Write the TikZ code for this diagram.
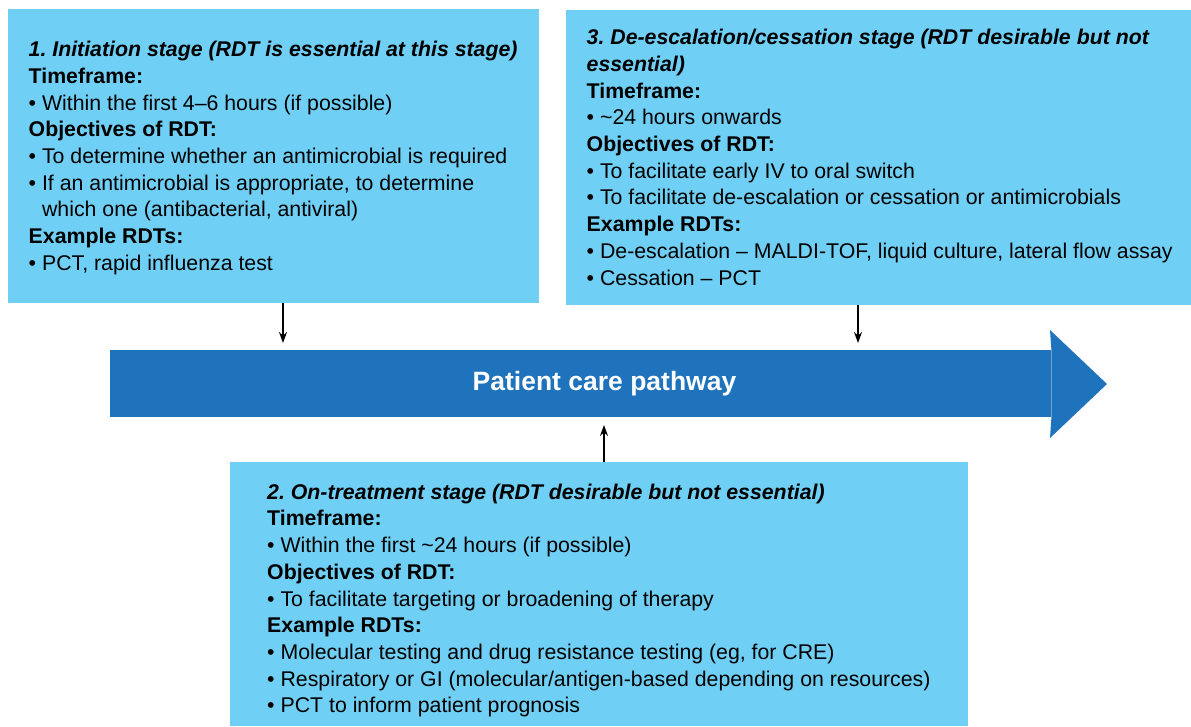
\documentclass[tikz,border=0pt]{standalone}
\usepackage{fontspec}
\setmainfont{Liberation Sans}
\usetikzlibrary{arrows.meta}
\definecolor{boxblue}{RGB}{112,207,245}
\definecolor{pathblue}{RGB}{31,115,188}
\frenchspacing

\begin{document}
\begin{tikzpicture}[x=1pt,y=-1pt,
  stagebox/.style={fill=boxblue, draw=none, anchor=north west, inner sep=0pt},
  stagetext/.style={anchor=north west, inner sep=0pt, align=left,
    font=\fontsize{21.3}{26.7}\selectfont},
  conn/.style={-{Stealth[length=11pt,width=8pt]}, line width=1.4pt, black}]
\useasboundingbox (0,0) rectangle (1191,726);

% stage boxes
\node[stagebox, minimum width=531pt, minimum height=294pt] (s1) at (8,9) {};
\node[stagebox, minimum width=625pt, minimum height=295pt] (s3) at (566,10) {};
\node[stagebox, minimum width=738pt, minimum height=264pt] (s2) at (230,462) {};

% stage texts (first baseline 20pt below the node top)
\node[stagetext] (s1text) at (28.5,36.4) {\rule{0pt}{20pt}\textbf{\textit{1. Initiation stage (RDT is essential at this stage)}}\\
\textbf{Timeframe:}\\
• Within the first 4–6 hours (if possible)\\
\textbf{Objectives of RDT:}\\
• To determine whether an antimicrobial is required\\
• If an antimicrobial is appropriate, to determine\\
\phantom{• }which one (antibacterial, antiviral)\\
\textbf{Example RDTs:}\\
• PCT, rapid influenza test};

\node[stagetext] (s3text) at (586.5,24.5) {\rule{0pt}{20pt}\textbf{\textit{3. De-escalation/cessation stage (RDT desirable but not}}\\
\textbf{\textit{essential)}}\\
\textbf{Timeframe:}\\
• \textasciitilde{}24 hours onwards\\
\textbf{Objectives of RDT:}\\
• To facilitate early IV to oral switch\\
• To facilitate de-escalation or cessation or antimicrobials\\
\textbf{Example RDTs:}\\
• De-escalation – MALDI-TOF, liquid culture, lateral flow assay\\
• Cessation – PCT};

\node[stagetext] (s2text) at (267,479) {\rule{0pt}{20pt}\textbf{\textit{2. On-treatment stage (RDT desirable but not essential)}}\\
\textbf{Timeframe:}\\
• Within the first \textasciitilde{}24 hours (if possible)\\
\textbf{Objectives of RDT:}\\
• To facilitate targeting or broadening of therapy\\
\textbf{Example RDTs:}\\
• Molecular testing and drug resistance testing (eg, for CRE)\\
• Respiratory or GI (molecular/antigen-based depending on resources)\\
• PCT to inform patient prognosis};

% patient care pathway arrow
\node[fill=pathblue, draw=none, inner sep=0pt, anchor=north west,
  minimum width=941pt, minimum height=67pt] (path) at (110,350) {};
\fill[pathblue] (path.north east) -- (1050,330) -- (1107,384) -- (1050,438)
  -- (path.south east) -- cycle;
\node[text=white, font=\fontsize{26.5}{30}\selectfont\bfseries] (ptext) at (604.5,384) {Patient care pathway};

% connectors into the pathway
\coordinate (t1) at (283,343);
\coordinate (t3) at (858,343);
\coordinate (t2) at (604,425);
\draw[conn] (s1.south -| t1) -- (t1);
\draw[conn] (s3.south -| t3) -- (t3);
\draw[conn] (s2.north -| t2) -- (t2);
\end{tikzpicture}
\end{document}
